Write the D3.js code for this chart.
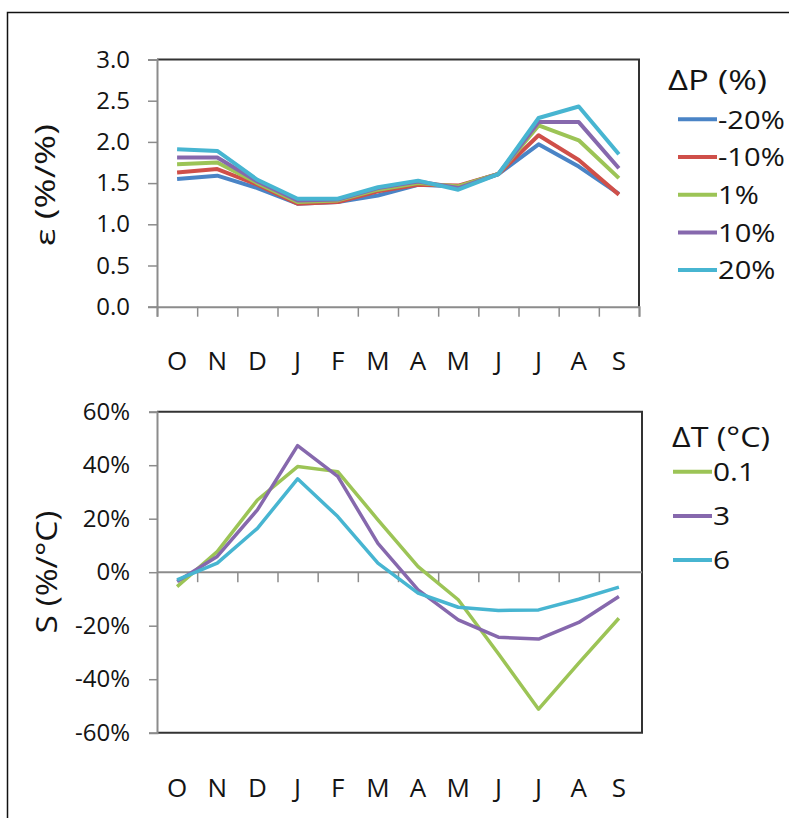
<!DOCTYPE html>
<html><head><meta charset="utf-8">
<script src="https://cdn.jsdelivr.net/npm/d3@7"></script>
<style>
html,body{margin:0;padding:0;background:#fff;}
text{font-family:"Open Sans",sans-serif;fill:#141414;}
</style></head>
<body>
<svg id="c" width="789" height="818"></svg>
<script>
// ---- data ----
const months = ["O","N","D","J","F","M","A","M","J","J","A","S"];
const epsTicks = [0,0.5,1.0,1.5,2.0,2.5,3.0];
const sTicks = [-60,-40,-20,0,20,40,60];
const dPLabels = ["-20%","-10%","1%","10%","20%"];
const epsM20 = [1.55,1.59,1.44,1.25,1.27,1.35,1.48,1.46,1.61,1.97,1.70,1.37];
const epsM10 = [1.63,1.67,1.48,1.25,1.27,1.40,1.48,1.47,1.61,2.08,1.78,1.36];
const eps1   = [1.73,1.75,1.50,1.27,1.29,1.42,1.50,1.46,1.61,2.20,2.02,1.56];
const eps10  = [1.81,1.81,1.52,1.29,1.30,1.44,1.52,1.44,1.61,2.24,2.24,1.68];
const eps20  = [1.91,1.89,1.54,1.31,1.31,1.45,1.53,1.42,1.61,2.29,2.43,1.85];
const dTLabels = ["0.1","3","6"];
const s01 = [-5.4,7.7,27.0,39.5,37.6,19.6,2.1,-10.3,-30.5,-51.2,-34.0,-17.2];
const s3  = [-3.5,5.9,23.3,47.3,35.8,10.8,-6.6,-17.8,-24.3,-25.0,-18.8,-9.1];
const s6  = [-2.9,3.4,16.4,34.9,20.8,3.4,-7.8,-13.1,-14.3,-14.1,-10.1,-5.6];

const colBlue="#4a84c6", colRed="#cf4f49", colGreen="#9cc456", colPurple="#8668ad", colCyan="#47b5d1";
const topSeries = [
  {name:dPLabels[0], v:epsM20, c:colBlue},
  {name:dPLabels[1], v:epsM10, c:colRed},
  {name:dPLabels[2], v:eps1,   c:colGreen},
  {name:dPLabels[3], v:eps10,  c:colPurple},
  {name:dPLabels[4], v:eps20,  c:colCyan}];
const botSeries = [
  {name:dTLabels[0], v:s01, c:colGreen},
  {name:dTLabels[1], v:s3,  c:colPurple},
  {name:dTLabels[2], v:s6,  c:colCyan}];

const svg = d3.select("#c");
const axisGray="#8c8c8c", frame="#333";

// outer frame
svg.append("rect").attr("x",7.5).attr("y",12.5).attr("width",820).attr("height",840)
  .attr("fill","none").attr("stroke","#111").attr("stroke-width",1.5);

function stretch(sel,k){ sel.each(function(){ const L=this.getComputedTextLength(); d3.select(this).attr("textLength",L*k).attr("lengthAdjust","spacingAndGlyphs");}); }
function fitTo(sel,w){ sel.attr("textLength",w).attr("lengthAdjust","spacingAndGlyphs"); }

// ---------------- top chart ----------------
const xL=157, xR=639;
const xT = d3.scaleLinear().domain([0,12]).range([xL,xR]);
const yT = d3.scaleLinear().domain([0,3]).range([306.7,59.5]);
const gT = svg.append("g");
gT.append("path").attr("d",`M${xL},${yT(3)}H${xR}V${yT(0)}`).attr("fill","none").attr("stroke",frame).attr("stroke-width",2);
const ya = gT.append("g").attr("transform",`translate(${xL},0)`)
  .call(d3.axisLeft(yT).tickValues(epsTicks).tickSize(9).tickPadding(18).tickFormat(d3.format(".1f")));
ya.select(".domain").attr("stroke",axisGray).attr("stroke-width",2);
ya.selectAll(".tick line").attr("stroke",axisGray).attr("stroke-width",1.5);
ya.selectAll("text").attr("font-size",24).attr("fill","#141414").attr("font-family","Open Sans");
const xa = gT.append("g").attr("transform",`translate(0,${yT(0)})`)
  .call(d3.axisBottom(xT).tickValues(d3.range(13)).tickSize(10).tickFormat(""));
xa.select(".domain").attr("stroke",axisGray).attr("stroke-width",2);
xa.selectAll(".tick line").attr("stroke",axisGray).attr("stroke-width",1.5);
gT.selectAll(".mlab").data(months).join("text").attr("class","mlab")
  .attr("x",(d,i)=>xT(i+0.5)).attr("y",370).attr("text-anchor","middle").attr("font-size",26).text(d=>d);
gT.append("text").attr("transform","translate(55,185) rotate(-90)").attr("text-anchor","middle")
  .attr("font-size",27).text("ε  (%/%)").call(fitTo,122);
const lineT = d3.line().x((d,i)=>xT(i+0.5)).y(d=>yT(d));
gT.selectAll(".sT").data(topSeries).join("path").attr("class","sT")
  .attr("d",d=>lineT(d.v)).attr("fill","none").attr("stroke",d=>d.c).attr("stroke-width",4).attr("stroke-linejoin","round");
gT.append("text").attr("x",668).attr("y",90).attr("font-size",28).text("ΔP (%)").call(fitTo,99);
const lgT = gT.selectAll(".lgT").data(topSeries).join("g").attr("class","lgT")
  .attr("transform",(d,i)=>`translate(0,${119.3+i*37.7})`);
lgT.append("line").attr("x1",678).attr("x2",717).attr("stroke",d=>d.c).attr("stroke-width",4);
lgT.append("text").attr("x",718).attr("dy","0.36em").attr("font-size",26).text(d=>d.name).call(stretch,1.12);

// ---------------- bottom chart ----------------
const xR2=642;
const yB = d3.scaleLinear().domain([-60,60]).range([732.7,411.7]);
const gB = svg.append("g");
gB.append("path").attr("d",`M${xL},${yB(60)}H${xR2}V${yB(-60)}H${xL}`).attr("fill","none").attr("stroke",frame).attr("stroke-width",2);
const yb = gB.append("g").attr("transform",`translate(${xL},0)`)
  .call(d3.axisLeft(yB).tickValues(sTicks).tickSize(8).tickPadding(19).tickFormat(d=>d+"%"));
yb.select(".domain").attr("stroke",axisGray).attr("stroke-width",2);
yb.selectAll(".tick line").attr("stroke",axisGray).attr("stroke-width",1.5);
yb.selectAll("text").attr("font-size",24).attr("fill","#141414").attr("font-family","Open Sans");
const xb = gB.append("g").attr("transform",`translate(0,${yB(0)})`)
  .call(d3.axisBottom(xT).tickValues(d3.range(1,12)).tickSize(10).tickFormat(""));
xb.select(".domain").attr("d",`M${xL},0H${xR2}`).attr("stroke",axisGray).attr("stroke-width",2);
xb.selectAll(".tick line").attr("stroke",axisGray).attr("stroke-width",1.5);
gB.selectAll(".mlab2").data(months).join("text").attr("class","mlab2")
  .attr("x",(d,i)=>xT(i+0.5)).attr("y",797).attr("text-anchor","middle").attr("font-size",26).text(d=>d);
gB.append("text").attr("transform","translate(57,572) rotate(-90)").attr("text-anchor","middle")
  .attr("font-size",30).text("S (%/°C)").call(fitTo,123);
const lineB = d3.line().x((d,i)=>xT(i+0.5)).y(d=>yB(d));
gB.selectAll(".sB").data(botSeries).join("path").attr("class","sB")
  .attr("d",d=>lineB(d.v)).attr("fill","none").attr("stroke",d=>d.c).attr("stroke-width",3.5).attr("stroke-linejoin","round");
gB.append("text").attr("x",672).attr("y",447).attr("font-size",28).text("ΔT (°C)").call(fitTo,98);
const lgB = gB.selectAll(".lgB").data(botSeries).join("g").attr("class","lgB")
  .attr("transform",(d,i)=>`translate(0,${471.7+i*44.2})`);
lgB.append("line").attr("x1",673).attr("x2",712).attr("stroke",d=>d.c).attr("stroke-width",4);
lgB.append("text").attr("x",713).attr("dy","0.36em").attr("font-size",26).text(d=>d.name).call(stretch,1.15);
</script>
</body></html>
